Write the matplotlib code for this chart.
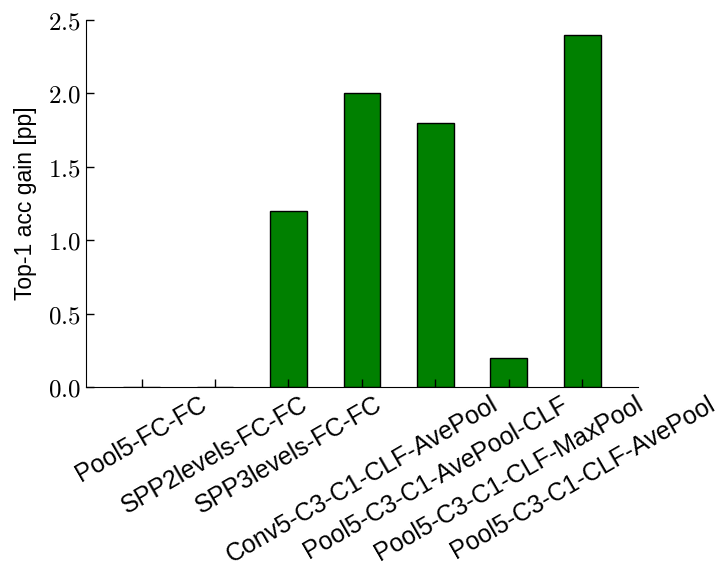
import matplotlib
matplotlib.use("Agg")
import matplotlib.pyplot as plt
import numpy as np

names = ["Pool5-FC-FC", "SPP2levels-FC-FC", "SPP3levels-FC-FC",
         "Conv5-C3-C1-CLF-AvePool", "Pool5-C3-C1-AvePool-CLF",
         "Pool5-C3-C1-CLF-MaxPool", "Pool5-C3-C1-CLF-AvePool"]
gain = [0.0, 0.0, 1.2, 2.0, 1.8, 0.2, 2.4]
yticks = [0.0, 0.5, 1.0, 1.5, 2.0, 2.5]

plt.rcParams['font.family'] = ['Liberation Sans', 'DejaVu Sans']
plt.rcParams['mathtext.fontset'] = 'cm'

fig = plt.figure(figsize=(7.21, 5.72), dpi=100)
ax = fig.add_axes([0.119, 0.3234, 0.766, 0.6416])

x = np.arange(len(names))
ax.bar(x, gain, width=0.5, color='#008000', edgecolor='black', linewidth=1.0)

ax.set_xlim(-0.76, 6.76)
ax.set_ylim(0, 2.5)
ax.set_yticks(yticks, labels=[f'${v:.1f}$' for v in yticks], fontsize=18)
ax.set_xticks(x, labels=names, rotation=30, ha='center', fontsize=18)
ax.set_ylabel('Top-1 acc gain [pp]', fontsize=16.5)
ax.yaxis.set_label_coords(-0.089, 0.5)

ax.spines['top'].set_visible(False)
ax.spines['right'].set_visible(False)
ax.tick_params(direction='in', length=6, width=1, top=False, right=False)

fig.savefig('out.png', dpi=100)
